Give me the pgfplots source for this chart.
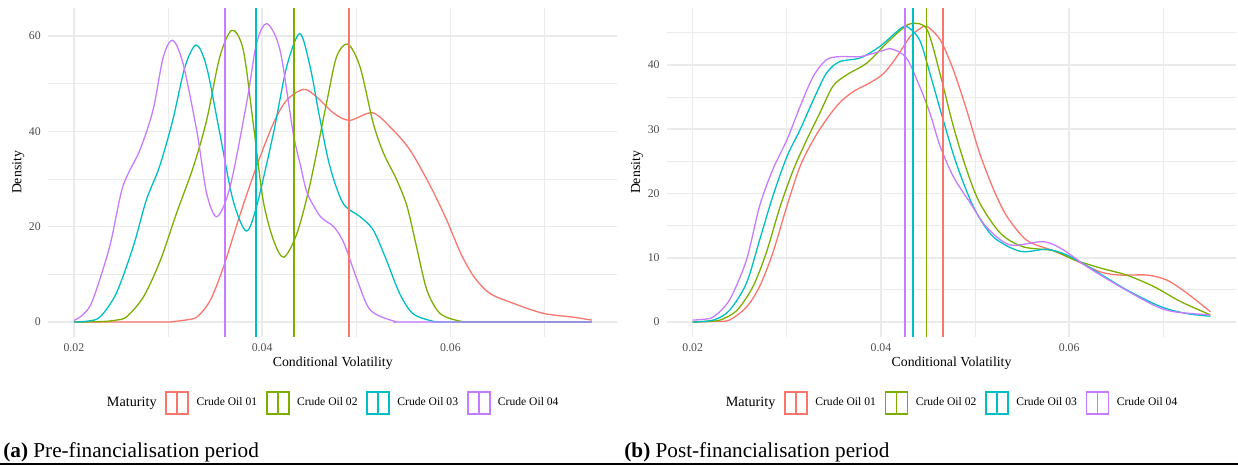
\documentclass[border=0pt]{standalone}
\usepackage{fontspec}
\setmainfont{Liberation Serif}
\usepackage{pgfplots}
\pgfplotsset{compat=1.18}

\definecolor{cA}{HTML}{F8766D}
\definecolor{cB}{HTML}{7CAE00}
\definecolor{cC}{HTML}{00BFC4}
\definecolor{cD}{HTML}{C77CFF}
\definecolor{gridc}{HTML}{EBEBEB}
\definecolor{tickc}{HTML}{4D4D4D}

\pgfplotsset{
  densplot/.style={
    width=284.75pt, height=164.2pt, scale only axis,
    anchor=south west,
    xmin=0.01725, xmax=0.07775,
    scaled x ticks=false,
    xtick={0.02,0.04,0.06}, xticklabels={0.02,0.04,0.06},
    minor xtick={0.03,0.05,0.07},
    grid=both,
    major grid style={gridc, line width=0.8pt},
    minor grid style={gridc, line width=0.45pt},
    axis line style={draw=none},
    tick style={draw=none},
    tick label style={font=\fontsize{5.9}{7}\selectfont, text=tickc},
    /pgf/number format/assume math mode=true,
    xticklabel style={anchor=base, yshift=-7.15pt},
    yticklabel style={anchor=east, inner sep=0pt, xshift=-3.4pt},
    xlabel={Conditional Volatility},
    ylabel={Density},
    label style={font=\fontsize{6.9}{8}\selectfont},
    xlabel style={at={(axis description cs:0.5,-0.0914)}, anchor=base},
    ylabel style={at={(axis description cs:-0.0522,0.5)}, anchor=center},
    legend columns=5,
    legend style={at={(axis description cs:0.5,-0.2019)}, anchor=center,
      xshift=-1.85pt, draw=none, fill=none,
      font=\fontsize{5.8}{7}\selectfont, nodes={inner sep=0pt},
      /tikz/every odd column/.append style={column sep=3.7pt},
      /tikz/every even column/.append style={column sep=4.35pt}},
    legend image code/.code={
      \draw[##1, line width=0.9pt] (0pt,-5.5pt) rectangle (11pt,5.5pt);
      \draw[##1, line width=0.9pt] (5.5pt,-5.5pt) -- (5.5pt,5.5pt);},
  },
  dens/.style={line width=0.65pt, smooth, tension=0.5},
  vl/.style={line width=0.85pt, forget plot},
}

\begin{document}
\begin{tikzpicture}
\useasboundingbox (0,0) rectangle (619pt,-233pt);

% (a) pre-financialisation
\begin{axis}[densplot, at={(24pt,-168.35pt)},
  ymin=-3.08, ymax=65.8, ytick={0,20,40,60}, minor ytick={10,30,50}]
\addlegendimage{empty legend}
\addlegendentry{\fontsize{7.1}{8}\selectfont Maturity}
\addplot[cA, dens] coordinates {
(0.020,0)(0.0295,0)(0.0305,0.1)(0.0318,0.4)(0.0331,1.1)(0.0345,4.6)(0.0359,11.6)
(0.0377,22.8)(0.0394,32.6)(0.0412,41.7)(0.0426,46.5)(0.0444,48.8)(0.0458,47.2)
(0.0476,43.8)(0.0493,42.3)(0.0517,43.9)(0.0536,40.9)(0.0557,36.1)(0.0579,28.4)
(0.0596,21.4)(0.0611,14.4)(0.0625,9.5)(0.0642,6.0)(0.0667,3.9)(0.0699,1.8)
(0.0731,1.0)(0.0750,0.4)};
\addlegendentry{Crude Oil 01}
\addplot[cB, dens] coordinates {
(0.020,0)(0.0230,0.1)(0.0245,0.4)(0.0256,1.1)(0.0274,5.3)(0.0292,13.0)(0.0309,22.8)
(0.0327,32.6)(0.0341,42.3)(0.0355,55.6)(0.0368,61.2)(0.0380,57.0)(0.0391,40.9)
(0.0401,25.6)(0.0412,17.2)(0.0423,13.6)(0.0437,18.6)(0.0451,29.0)(0.0469,46.5)
(0.0479,55.6)(0.0491,58.3)(0.0504,53.5)(0.0518,41.7)(0.0529,35.4)(0.0543,29.8)
(0.0554,24.2)(0.0564,15.8)(0.0575,6.7)(0.0589,1.8)(0.0610,0.2)(0.0630,0)(0.0750,0)};
\addlegendentry{Crude Oil 02}
\addplot[cC, dens] coordinates {
(0.020,0)(0.0215,0.2)(0.0228,1.1)(0.0245,6.0)(0.0263,15.8)(0.0277,25.6)(0.0291,32.6)
(0.0305,42.3)(0.0318,53.5)(0.0330,58.1)(0.0341,53.5)(0.0355,39.6)(0.0369,25.6)
(0.0383,19.1)(0.0394,24.2)(0.0412,39.6)(0.0426,53.5)(0.0440,60.5)(0.0451,53.5)
(0.0461,43.0)(0.0472,32.6)(0.0486,24.9)(0.0504,22.1)(0.0518,19.3)(0.0532,13.0)
(0.0546,6.0)(0.0560,1.8)(0.0581,0.2)(0.0600,0)(0.0750,0)};
\addlegendentry{Crude Oil 03}
\addplot[cD, dens] coordinates {
(0.020,0.3)(0.0210,1.6)(0.0220,4.6)(0.0238,15.8)(0.0252,28.4)(0.0270,36.0)
(0.0284,44.4)(0.0295,55.6)(0.0305,59.1)(0.0316,54.2)(0.0331,39.6)(0.0341,27.0)
(0.0352,22.1)(0.0366,28.4)(0.0384,46.5)(0.0394,58.4)(0.0405,62.6)(0.0419,57.0)
(0.0433,39.6)(0.0441,32.6)(0.0448,27.0)(0.0462,22.1)(0.0476,20.0)(0.0487,16.5)
(0.0501,8.8)(0.0515,2.5)(0.0540,0.2)(0.0560,0)(0.0750,0)};
\addlegendentry{Crude Oil 04}
\addplot[cD, vl] coordinates {(0.03604,-10)(0.03604,80)};
\addplot[cC, vl] coordinates {(0.03933,-10)(0.03933,80)};
\addplot[cB, vl] coordinates {(0.04337,-10)(0.04337,80)};
\addplot[cA, vl] coordinates {(0.04921,-10)(0.04921,80)};
\end{axis}

% (b) post-financialisation
\begin{axis}[densplot, at={(333.4pt,-168.35pt)},
  ymin=-2.29, ymax=48.82, ytick={0,10,20,30,40}, minor ytick={5,15,25,35,45}]
\addlegendimage{empty legend}
\addlegendentry{\fontsize{7.1}{8}\selectfont Maturity}
\addplot[cA, dens] coordinates {
(0.020,0)(0.0225,0.1)(0.0239,0.3)(0.0257,2.3)(0.0271,5.5)(0.0285,10.7)(0.0300,18.0)
(0.0314,24.2)(0.0328,28.3)(0.0342,31.5)(0.0356,34.1)(0.0371,35.9)(0.0388,37.2)
(0.0403,38.7)(0.0417,41.3)(0.0431,44.4)(0.0442,45.7)(0.0449,46.0)(0.0463,43.9)
(0.0477,39.2)(0.0491,33.0)(0.0505,26.2)(0.0520,20.5)(0.0534,16.4)(0.0555,12.7)
(0.0583,11.1)(0.0605,9.7)(0.0633,7.8)(0.0654,7.3)(0.0683,7.3)(0.0704,6.5)
(0.0725,4.5)(0.0750,1.6)};
\addlegendentry{Crude Oil 01}
\addplot[cB, dens] coordinates {
(0.020,0)(0.0215,0.1)(0.0229,0.3)(0.0247,1.8)(0.0264,5.5)(0.0278,10.7)(0.0293,18.0)
(0.0307,23.7)(0.0321,28.3)(0.0335,32.5)(0.0349,36.7)(0.0364,38.5)(0.0385,40.3)
(0.0406,43.4)(0.0424,45.8)(0.0434,46.5)(0.0449,45.5)(0.0463,38.5)(0.0477,30.4)
(0.0491,23.7)(0.0505,18.5)(0.0527,13.8)(0.0551,11.7)(0.0583,11.1)(0.0605,9.7)
(0.0633,8.4)(0.0661,7.3)(0.0690,5.5)(0.0718,3.2)(0.0750,1.1)};
\addlegendentry{Crude Oil 02}
\addplot[cC, dens] coordinates {
(0.020,0)(0.0222,0.3)(0.0239,1.8)(0.0257,6.0)(0.0271,12.7)(0.0285,19.5)(0.0300,25.7)
(0.0314,29.9)(0.0328,34.5)(0.0342,38.7)(0.0356,40.5)(0.0378,41.1)(0.0399,42.9)
(0.0417,45.2)(0.0427,46.0)(0.0441,43.9)(0.0452,38.7)(0.0466,31.5)(0.0480,24.7)
(0.0498,18.0)(0.0519,13.3)(0.0548,11.0)(0.0576,11.3)(0.0598,10.4)(0.0626,8.1)
(0.0661,5.0)(0.0697,2.4)(0.0725,1.3)(0.0750,0.9)};
\addlegendentry{Crude Oil 03}
\addplot[cD, dens] coordinates {
(0.020,0.3)(0.0210,0.4)(0.0222,0.8)(0.0239,3.4)(0.0257,9.6)(0.0271,18.0)(0.0285,23.7)
(0.0300,28.3)(0.0314,33.5)(0.0328,38.2)(0.0342,40.8)(0.0356,41.3)(0.0378,41.3)
(0.0399,42.1)(0.0411,42.5)(0.0427,41.1)(0.0441,36.7)(0.0452,32.5)(0.0463,27.3)
(0.0477,22.6)(0.0495,18.5)(0.0512,14.8)(0.0537,12.0)(0.0573,12.5)(0.0594,11.2)
(0.0619,8.6)(0.0654,5.5)(0.0690,2.6)(0.0711,1.6)(0.0750,1.1)};
\addlegendentry{Crude Oil 04}
\addplot[cD, vl] coordinates {(0.04255,-10)(0.04255,80)};
\addplot[cC, vl] coordinates {(0.04343,-10)(0.04343,80)};
\addplot[cB, vl] coordinates {(0.04485,-10)(0.04485,80)};
\addplot[cA, vl] coordinates {(0.04662,-10)(0.04662,80)};
\end{axis}

\node[anchor=base west, inner sep=0pt, font=\fontsize{10.6}{12}\selectfont]
  at (1.5pt,-228.5pt) {\textbf{(a)} Pre-financialisation period};
\node[anchor=base west, inner sep=0pt, font=\fontsize{10.6}{12}\selectfont]
  at (312pt,-228.5pt) {\textbf{(b)} Post-financialisation period};
\draw[line width=1pt] (0,-232.15pt) -- (619pt,-232.15pt);
\end{tikzpicture}
\end{document}
